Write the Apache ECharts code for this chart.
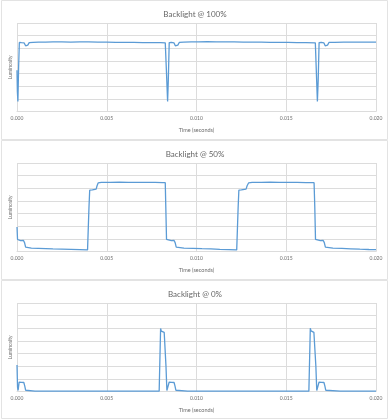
<!DOCTYPE html>
<html>
<head>
<meta charset="utf-8">
<script src="https://cdn.jsdelivr.net/npm/echarts@6/dist/echarts.min.js"></script>
<style>
html,body{margin:0;padding:0;background:#fff;}
#c{width:390px;height:419px;}
</style>
</head>
<body>
<div id="c"></div>
<script>
// ---- data ----
var titles = ['Backlight @ 100%', 'Backlight @ 50%', 'Backlight @ 0%'];
var xTicks = ['0.000', '0.005', '0.010', '0.015', '0.020'];
var xAxisTitle = 'Time (seconds)';
var yAxisTitle = 'Luminosity';

var time100 = [0, 0.00002, 0.00005, 0.00009, 0.00013, 0.00025, 0.00040, 0.00048, 0.00054, 0.00060, 0.00068, 0.0009, 0.0012, 0.0016, 0.0020, 0.0025, 0.0030, 0.0035, 0.0040, 0.0045, 0.0050, 0.0055, 0.0060, 0.0065, 0.0070, 0.0075, 0.0080, 0.00826, 0.00833, 0.00839, 0.00843, 0.00848, 0.00860, 0.00875, 0.00882, 0.00889, 0.00896, 0.00904, 0.0093, 0.0097, 0.0101, 0.0106, 0.0111, 0.0116, 0.0121, 0.0126, 0.0131, 0.0136, 0.0141, 0.0146, 0.0151, 0.0156, 0.0161, 0.01662, 0.01668, 0.016735, 0.01678, 0.01683, 0.01695, 0.01710, 0.01717, 0.01723, 0.01730, 0.01738, 0.0177, 0.0182, 0.0187, 0.0192, 0.0196, 0.0200];
var lum100 = [3.26, 1.6, 0.80, 3.5, 5.46, 5.44, 5.42, 5.2, 5.06, 5.25, 5.45, 5.47, 5.49, 5.48, 5.50, 5.51, 5.49, 5.51, 5.50, 5.49, 5.48, 5.47, 5.47, 5.46, 5.45, 5.45, 5.44, 5.43, 3.0, 0.80, 2.5, 5.45, 5.46, 5.42, 5.2, 5.06, 5.25, 5.46, 5.48, 5.50, 5.51, 5.52, 5.51, 5.50, 5.50, 5.49, 5.48, 5.48, 5.47, 5.46, 5.46, 5.45, 5.45, 5.43, 3.0, 0.80, 2.5, 5.45, 5.46, 5.42, 5.2, 5.06, 5.25, 5.46, 5.47, 5.48, 5.48, 5.49, 5.49, 5.49];

var time50 = [0, 0.00003, 0.00006, 0.0002, 0.00036, 0.00042, 0.00048, 0.00056, 0.0008, 0.0012, 0.0016, 0.0020, 0.0025, 0.0030, 0.0035, 0.00393, 0.00397, 0.00401, 0.00405, 0.0042, 0.00441, 0.00446, 0.00452, 0.0047, 0.0052, 0.0057, 0.0062, 0.0067, 0.0072, 0.0077, 0.0081, 0.00826, 0.00829, 0.00833, 0.00838, 0.0086, 0.00875, 0.00881, 0.00887, 0.00895, 0.0093, 0.0098, 0.0103, 0.0108, 0.0113, 0.0118, 0.01224, 0.01228, 0.01232, 0.01236, 0.0125, 0.01276, 0.01282, 0.01290, 0.0131, 0.0136, 0.0141, 0.0146, 0.0151, 0.0156, 0.0161, 0.01655, 0.01659, 0.01663, 0.01668, 0.0169, 0.01706, 0.01712, 0.01718, 0.01726, 0.0176, 0.0181, 0.0186, 0.0191, 0.0196, 0.0200];
var lum50 = [1.94, 0.95, 0.88, 0.86, 0.87, 0.7, 0.34, 0.29, 0.27, 0.25, 0.23, 0.21, 0.19, 0.17, 0.15, 0.13, 0.15, 3.5, 4.85, 4.87, 4.93, 5.2, 5.42, 5.46, 5.47, 5.48, 5.47, 5.46, 5.47, 5.46, 5.45, 5.44, 3.5, 0.95, 0.88, 0.86, 0.87, 0.7, 0.34, 0.29, 0.27, 0.25, 0.22, 0.20, 0.17, 0.15, 0.13, 0.15, 3.5, 4.85, 4.87, 4.93, 5.2, 5.42, 5.46, 5.47, 5.48, 5.47, 5.46, 5.46, 5.45, 5.44, 3.5, 0.95, 0.88, 0.86, 0.87, 0.7, 0.34, 0.29, 0.27, 0.24, 0.21, 0.18, 0.16, 0.15];

var time0 = [0, 0.00003, 0.00006, 0.00009, 0.00012, 0.00016, 0.00025, 0.00038, 0.00043, 0.00048, 0.00054, 0.0010, 0.0020, 0.0030, 0.0040, 0.0050, 0.0060, 0.0070, 0.00792, 0.00796, 0.00800, 0.00804, 0.00810, 0.00820, 0.00826, 0.00830, 0.00835, 0.00843, 0.00848, 0.00853, 0.00862, 0.00875, 0.00880, 0.00885, 0.00892, 0.0095, 0.0105, 0.0115, 0.0125, 0.0135, 0.0145, 0.0155, 0.01626, 0.01630, 0.01634, 0.01638, 0.01644, 0.01654, 0.01661, 0.01665, 0.01670, 0.01678, 0.01683, 0.01688, 0.01697, 0.01710, 0.01715, 0.01720, 0.01727, 0.0180, 0.0190, 0.0200];
var lum0 = [2.1, 0.35, 0.08, 0.15, 0.75, 0.79, 0.72, 0.71, 0.45, 0.10, 0.04, 0.03, 0.03, 0.03, 0.03, 0.03, 0.03, 0.03, 0.03, 2.5, 4.98, 4.78, 4.70, 4.68, 4.66, 2.0, 0.08, 0.06, 0.75, 0.79, 0.72, 0.71, 0.45, 0.10, 0.04, 0.03, 0.03, 0.03, 0.03, 0.03, 0.03, 0.03, 0.03, 2.5, 5.0, 4.80, 4.70, 4.68, 4.66, 2.0, 0.08, 0.06, 0.75, 0.79, 0.72, 0.71, 0.45, 0.10, 0.04, 0.03, 0.03, 0.03];

var panelTimes = [time100, time50, time0];
var panelLums = [lum100, lum50, lum0];

// ---- layout ----
var panelTops = [0, 140, 280];
var panelH = [139, 139, 138];
var font = 'Lato, "Open Sans", sans-serif';
var textColor = '#6e6e6e';
var gridColor = '#dcdcdc';
var lineColor = '#5b9bd5';

function zip(a, b) { return a.map(function (v, i) { return [v, b[i]]; }); }

var option = {
  animation: false,
  backgroundColor: '#ffffff',
  title: [], grid: [], xAxis: [], yAxis: [], series: [],
  graphic: []
};

for (var i = 0; i < 3; i++) {
  var pTop = panelTops[i];
  option.graphic.push({
    type: 'rect', silent: true, z: -1,
    shape: { x: 1.5, y: pTop + 0.5, width: 386, height: panelH[i] },
    style: { fill: '#ffffff', stroke: '#e3e3e3', lineWidth: 1 }
  });
  option.title.push({
    text: titles[i], left: 'center', top: pTop + 5,
    textStyle: { fontFamily: font, fontSize: 8, fontWeight: 'normal', color: '#666666' }
  });
  option.grid.push({ left: 17, right: 14, top: pTop + 23, height: 88.5, containLabel: false });
  option.xAxis.push({
    type: 'value', gridIndex: i, min: 0, max: 0.02, interval: 0.005,
    name: xAxisTitle, nameLocation: 'middle', nameGap: 16,
    nameTextStyle: { fontFamily: font, fontSize: 5.5, color: textColor },
    axisLine: { show: true, lineStyle: { color: gridColor, width: 1 } },
    axisTick: { show: false },
    axisLabel: {
      fontFamily: font, fontSize: 5, color: textColor, margin: 4,
      formatter: function (v) { var idx = Math.round(v / 0.005); return xTicks[idx]; }
    },
    splitLine: { show: true, lineStyle: { color: gridColor, width: 1 } }
  });
  option.yAxis.push({
    type: 'value', gridIndex: i, min: 0, max: 7, interval: 1,
    name: yAxisTitle, nameLocation: 'middle', nameGap: 4, nameRotate: 90,
    nameTextStyle: { fontFamily: font, fontSize: 5, color: textColor },
    axisLine: { show: false }, axisTick: { show: false },
    axisLabel: { show: false },
    splitLine: { show: true, lineStyle: { color: gridColor, width: 1 } }
  });
  option.series.push({
    type: 'line', xAxisIndex: i, yAxisIndex: i,
    data: zip(panelTimes[i], panelLums[i]),
    showSymbol: false, symbol: 'none',
    lineStyle: { color: lineColor, width: 1.3 },
    itemStyle: { color: lineColor }
  });
}

var chart = echarts.init(document.getElementById('c'), null, { renderer: 'canvas' });
chart.setOption(option);
</script>
</body>
</html>
